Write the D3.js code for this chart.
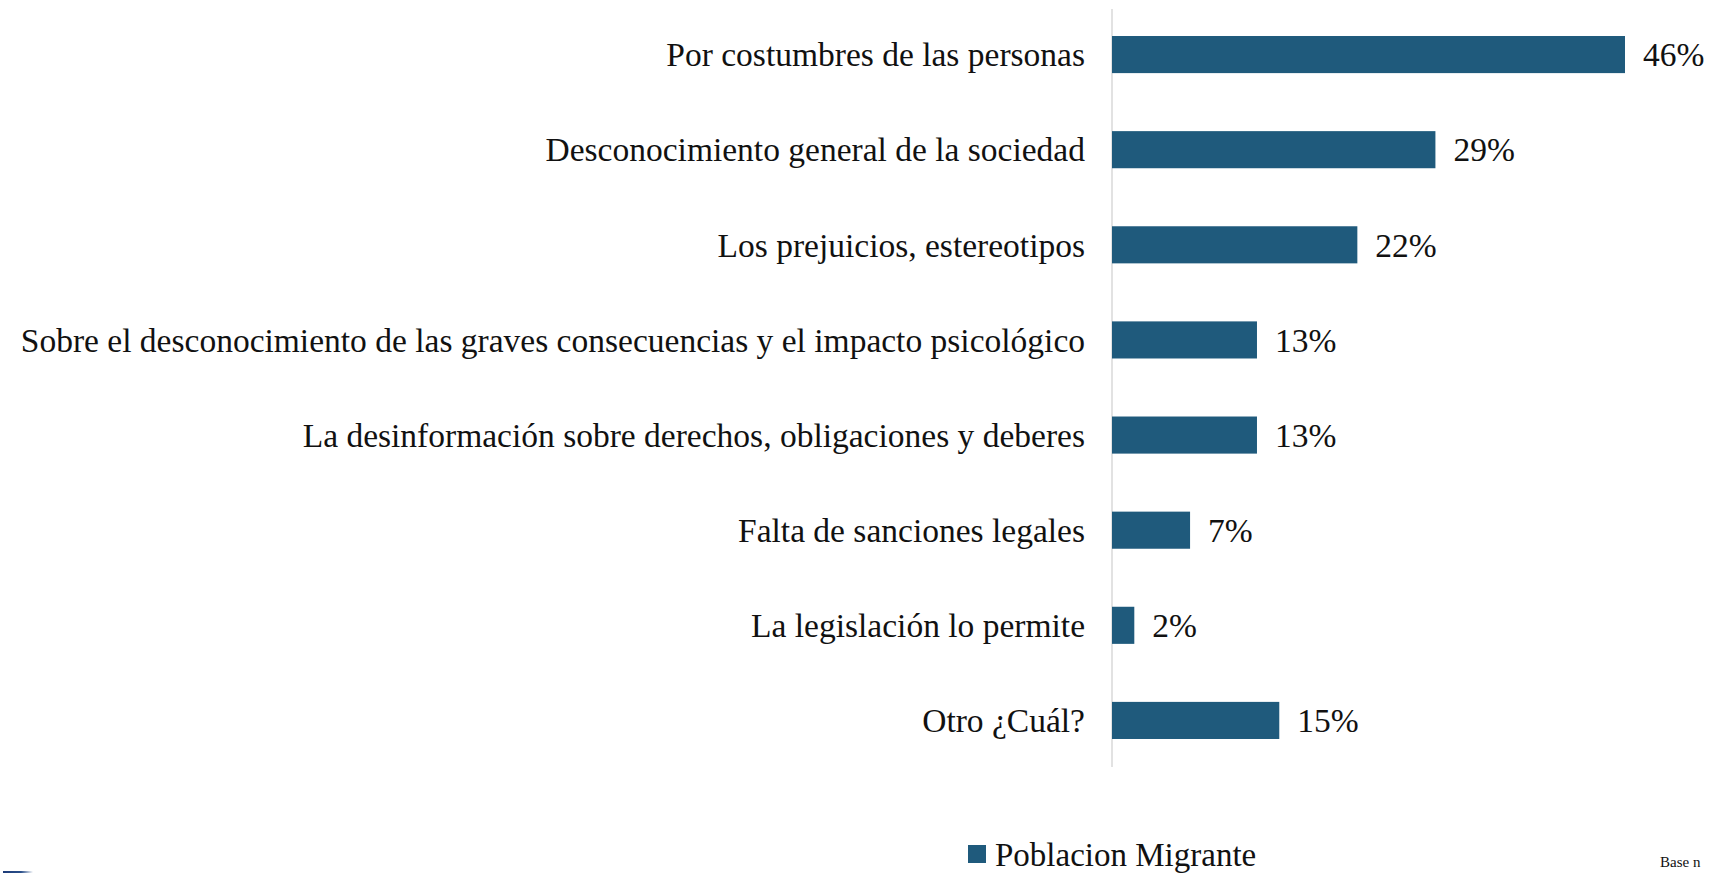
<!DOCTYPE html>
<html>
<head>
<meta charset="utf-8">
<script src="https://cdn.jsdelivr.net/npm/d3@7"></script>
<style>
  html, body { margin: 0; padding: 0; background: #ffffff; overflow: hidden; }
  svg { display: block; }
  text { font-family: "Liberation Serif", "DejaVu Serif", serif; fill: #111111; }
</style>
</head>
<body>
<svg id="chart" width="1711" height="873"></svg>
<script>
// Razones señaladas por la población migrante (porcentaje)
const categories = [
  "Por costumbres de las personas",
  "Desconocimiento general de la sociedad",
  "Los prejuicios, estereotipos",
  "Sobre el desconocimiento de las graves consecuencias y el impacto psicológico",
  "La desinformación sobre derechos, obligaciones y deberes",
  "Falta de sanciones legales",
  "La legislación lo permite",
  "Otro ¿Cuál?"
];
const values = [46, 29, 22, 13, 13, 7, 2, 15];
const seriesName = "Poblacion Migrante";
const baseNote = "Base n";

const axisX = 1112;
const labelSize = 33.5;
const svg = d3.select("#chart");

const x = d3.scaleLinear().domain([0, 46]).range([axisX, axisX + 513]);
const y = d3.scaleBand().domain(categories).range([7, 768]).paddingInner(0.61).paddingOuter(0.305);

// vertical category axis line
svg.append("line")
  .attr("x1", axisX).attr("x2", axisX)
  .attr("y1", 9).attr("y2", 767)
  .attr("stroke", "#d9d9d9").attr("stroke-width", 1.5);

// bars
svg.append("g").selectAll("rect")
  .data(categories)
  .join("rect")
  .attr("x", x(0))
  .attr("y", d => y(d))
  .attr("width", (d, i) => x(values[i]) - x(0))
  .attr("height", y.bandwidth())
  .attr("fill", "#1f5a7c");

// category labels
svg.append("g").selectAll("text")
  .data(categories)
  .join("text")
  .attr("x", 1085)
  .attr("y", d => y(d) + y.bandwidth() / 2)
  .attr("dy", "0.35em")
  .attr("text-anchor", "end")
  .attr("font-size", labelSize)
  .text(d => d);

// value labels
svg.append("g").selectAll("text")
  .data(categories)
  .join("text")
  .attr("x", (d, i) => x(values[i]) + 18)
  .attr("y", d => y(d) + y.bandwidth() / 2)
  .attr("dy", "0.35em")
  .attr("font-size", labelSize)
  .text((d, i) => values[i] + "%");

// legend
const lg = svg.append("g");
lg.append("rect").attr("x", 968).attr("y", 845).attr("width", 18).attr("height", 18).attr("fill", "#1f5a7c");
lg.append("text").attr("x", 995).attr("y", 866).attr("font-size", 33).text(seriesName);

// footnote at lower right
svg.append("text").attr("x", 1660).attr("y", 867).attr("font-size", 15).text(baseNote);

// small dark strip at lower left edge
const grad = svg.append("defs").append("linearGradient").attr("id", "strip");
grad.append("stop").attr("offset", "0%").attr("stop-color", "#1d3a78");
grad.append("stop").attr("offset", "60%").attr("stop-color", "#2a4f8a");
grad.append("stop").attr("offset", "100%").attr("stop-color", "#ffffff");
svg.append("rect").attr("x", 3).attr("y", 871).attr("width", 30).attr("height", 2).attr("fill", "url(#strip)");
</script>
</body>
</html>
